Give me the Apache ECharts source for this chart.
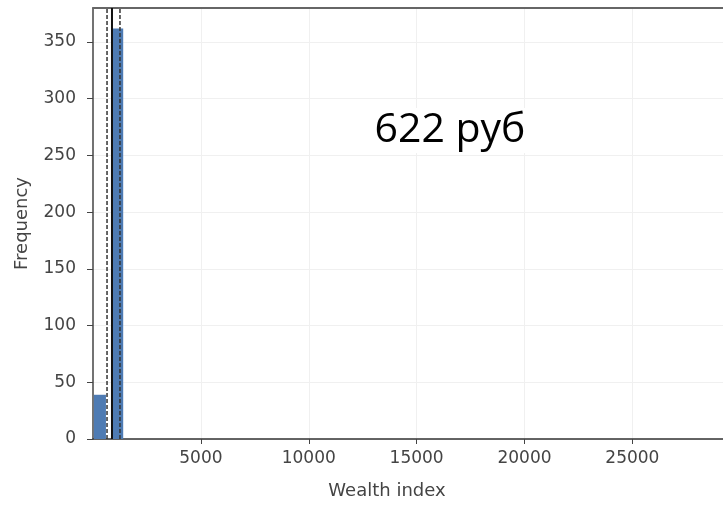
<!DOCTYPE html>
<html>
<head>
<meta charset="utf-8">
<script src="https://cdn.jsdelivr.net/npm/echarts@6/dist/echarts.min.js"></script>
<style>html,body{margin:0;padding:0;background:#fff}#c{width:723px;height:505px}</style>
</head>
<body>
<div id="c"></div>
<script>
// Histogram bins (Wealth index) and frequencies
const binStart = [40, 880];
const binEnd = [600, 1400];
const counts = [39, 362];
// Reference vertical lines: [value, style]
const refLineValues = [650, 880, 1250];
const refLineTypes = ['dashed', 'solid', 'dashed'];
const xTicks = [5000, 10000, 15000, 20000, 25000];
const yTicks = [0, 50, 100, 150, 200, 250, 300, 350];
const annotation = '622 руб';
const xName = 'Wealth index';
const yName = 'Frequency';

const FONT = 'DejaVu Sans';
const chart = echarts.init(document.getElementById('c'), null, {renderer: 'canvas'});

const histData = binStart.map((s, i) => [s, binEnd[i], counts[i]]);
const lineSeries = refLineValues.map((v, i) => ({
  type: 'line',
  data: [[v, 0], [v, 380]],
  symbol: 'none',
  silent: true,
  z: 5,
  lineStyle: {
    color: refLineTypes[i] === 'solid' ? '#111' : '#333',
    width: refLineTypes[i] === 'solid' ? 2 : 1.5,
    type: refLineTypes[i] === 'solid' ? 'solid' : [4, 2]
  }
}));

chart.setOption({
  animation: false,
  grid: {left: 93, right: 0, top: 8, bottom: 66},
  xAxis: [{
    type: 'value',
    min: 0, max: 29200,
    axisLine: {show: true, lineStyle: {color: '#333', width: 1.5}},
    axisTick: {show: true, length: 5, lineStyle: {color: '#444'}, customValues: xTicks},
    axisLabel: {customValues: xTicks, color: '#444', fontFamily: FONT, fontSize: 17, margin: 11,
      formatter: function (v) { return String(v); }},
    splitLine: {show: true, lineStyle: {color: '#f0f0f0', width: 1}}
  }, {
    type: 'value', position: 'top',
    min: 0, max: 29200,
    axisLine: {show: true, onZero: false, lineStyle: {color: '#666', width: 2}},
    axisTick: {show: false}, axisLabel: {show: false}, splitLine: {show: false}
  }],
  yAxis: {
    type: 'value',
    min: 0, max: 380,
    name: yName,
    nameLocation: 'middle',
    nameGap: 62,
    nameTextStyle: {fontFamily: FONT, fontSize: 18, color: '#444'},
    axisLine: {show: true, lineStyle: {color: '#444', width: 1.5}},
    axisTick: {show: true, length: 6, lineStyle: {color: '#444'}, customValues: yTicks},
    axisLabel: {customValues: yTicks, color: '#444', fontFamily: FONT, fontSize: 17, margin: 17},
    splitLine: {show: true, lineStyle: {color: '#f0f0f0', width: 1}}
  },
  graphic: [{
    type: 'text', x: 387, y: 491,
    style: {text: xName, font: '18px "DejaVu Sans"', fill: '#444', align: 'center', verticalAlign: 'middle'}
  }, {
    type: 'text', x: 450, y: 108, z: 10,
    style: {text: annotation, font: '41px "Open Sans"', fill: '#000', align: 'center', verticalAlign: 'top',
      backgroundColor: '#fff', padding: [2, 4]}
  }],
  series: [{
    type: 'custom',
    data: histData,
    encode: {x: [0, 1], y: 2},
    renderItem: function (params, api) {
      const p0 = api.coord([api.value(0), api.value(2)]);
      const p1 = api.coord([api.value(1), 0]);
      return {
        type: 'rect',
        shape: {x: p0[0], y: p0[1], width: p1[0] - p0[0], height: p1[1] - p0[1]},
        style: {fill: '#4e7bb3'}
      };
    },
    z: 3
  }].concat(lineSeries)
});
</script>
</body>
</html>
